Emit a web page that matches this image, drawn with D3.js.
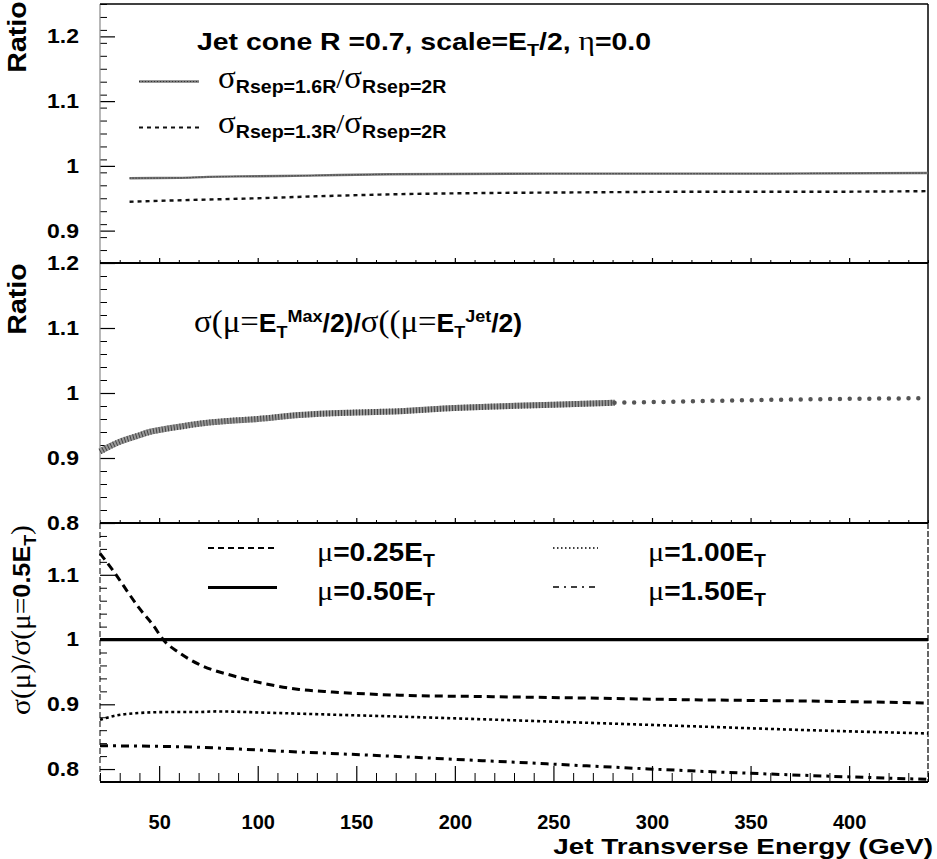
<!DOCTYPE html>
<html>
<head>
<meta charset="utf-8">
<script src="https://cdn.jsdelivr.net/npm/d3@7/dist/d3.min.js"></script>
<style>
  html, body { margin: 0; padding: 0; background: #fff; }
  svg { display: block; }
</style>
</head>
<body>
<svg id="chart" width="937" height="859"></svg>
<script>
// ---------------- DATA ----------------
// x axis
const xDomain = [20, 440];
const xMajorTicks = [50, 100, 150, 200, 250, 300, 350, 400];

// Top panel: Rsep ratios
const etRsep16 = [35, 60, 75, 100, 125, 167, 250, 330, 440];
const ratioRsep16 = [0.981, 0.9815, 0.983, 0.984, 0.985, 0.987, 0.988, 0.988, 0.989];
const etRsep13 = [35, 50, 75, 100, 130, 167, 213, 260, 320, 380, 440];
const ratioRsep13 = [0.9445, 0.946, 0.948, 0.950, 0.953, 0.956, 0.958, 0.959, 0.960, 0.960, 0.961];
const topYTicks = [0.9, 1.0, 1.1, 1.2];

// Middle panel: scale choice ratio (dense part, then sparse markers)
const etScaleDense = [20, 25, 30, 40, 45, 50, 60, 71, 85, 100, 121, 150, 172, 200, 213, 250, 281];
const ratioScaleDense = [0.910, 0.918, 0.925, 0.935, 0.940, 0.943, 0.948, 0.953, 0.957, 0.960, 0.966, 0.970, 0.972, 0.977, 0.9785, 0.982, 0.985];
const etScaleSparse = [281, 300, 350, 400, 440];
const ratioScaleSparse = [0.985, 0.986, 0.989, 0.991, 0.992];
const midYTicks = [0.8, 0.9, 1.0, 1.1, 1.2];

// Bottom panel: scale variations
const etMu025 = [20, 27, 33.5, 40, 47, 52, 60, 70, 87.5, 105, 121, 138, 172, 213, 260, 320, 380, 440];
const ratioMu025 = [1.133, 1.105, 1.076, 1.048, 1.022, 1.0, 0.980, 0.962, 0.944, 0.931, 0.923, 0.919, 0.914, 0.912, 0.910, 0.907, 0.905, 0.902];
const etMu050 = [20, 440];
const ratioMu050 = [1.0, 1.0];
const etMu100 = [20, 27, 37, 54, 69, 79, 105, 138, 172, 213, 262, 321, 380, 440];
const ratioMu100 = [0.876, 0.882, 0.886, 0.888, 0.888, 0.889, 0.887, 0.884, 0.881, 0.877, 0.872, 0.866, 0.860, 0.855];
const etMu150 = [20, 66, 116, 167, 214, 228, 260, 314, 380, 440];
const ratioMu150 = [0.836, 0.834, 0.827, 0.820, 0.813, 0.811, 0.806, 0.798, 0.790, 0.784];
const botYTicks = [0.8, 0.9, 1.0, 1.1];

// ---------------- LAYOUT ----------------
const svg = d3.select("#chart");
const X0 = 100, X1 = 928;
const panels = {
  top: { y0: 4, y1: 263, domain: [0.85, 1.25] },
  mid: { y0: 263, y1: 523, domain: [0.8, 1.2] },
  bot: { y0: 523, y1: 782, domain: [0.78, 1.18] }
};
const x = d3.scaleLinear().domain(xDomain).range([X0, X1]);
const yTop = d3.scaleLinear().domain(panels.top.domain).range([panels.top.y1, panels.top.y0]);
const yMid = d3.scaleLinear().domain(panels.mid.domain).range([panels.mid.y1, panels.mid.y0]);
const yBot = d3.scaleLinear().domain(panels.bot.domain).range([panels.bot.y1, panels.bot.y0]);

const SANS = "'Liberation Sans', Arial, Helvetica, sans-serif";
const SERIF = "'Liberation Serif', 'Times New Roman', serif";

function range(a, b, step) {
  const out = [];
  for (let v = a; v <= b + 1e-9; v += step) out.push(Math.round(v * 1000) / 1000);
  return out;
}
const fmtY = d => (Math.abs(d - 1) < 1e-9 ? "1" : d3.format(".1f")(d));

// rich text helper
function rich(sel, tx, ty, parts, opts) {
  const g = sel.append("g")
    .attr("transform", `translate(${tx},${ty}) rotate(${opts.rotate || 0}) scale(${opts.sx || 1},1)`);
  const t = g.append("text").attr("text-anchor", opts.anchor || "start").attr("fill", "#000");
  parts.forEach(p => {
    const ts = t.append("tspan").text(p.t)
      .attr("font-family", p.s ? SERIF : SANS)
      .attr("font-weight", p.s ? "normal" : "bold")
      .attr("font-size", p.size || opts.size);
    if (p.dy) ts.attr("dy", p.dy);
  });
  return g;
}

// ---------------- Y AXES ----------------
function yAxis(scale, majors, dom) {
  const minors = range(dom[0], dom[1], 0.02).filter(v => !majors.some(m => Math.abs(m - v) < 1e-6));
  const gMin = svg.append("g").attr("transform", `translate(${X0},0)`)
    .call(d3.axisLeft(scale).tickValues(minors).tickSizeInner(-7).tickSizeOuter(0).tickFormat(""));
  gMin.select(".domain").remove();
  gMin.selectAll("line").attr("stroke", "#000").attr("stroke-width", 1);
  const gMaj = svg.append("g").attr("transform", `translate(${X0},0)`)
    .call(d3.axisLeft(scale).tickValues(majors).tickSizeInner(-15).tickSizeOuter(0).tickPadding(21).tickFormat(fmtY));
  gMaj.select(".domain").remove();
  gMaj.selectAll("line").attr("stroke", "#000").attr("stroke-width", 1.2);
  gMaj.selectAll("text")
    .attr("font-family", SANS).attr("font-weight", "bold").attr("font-size", 20).attr("fill", "#000")
    .each(function () {
      const el = d3.select(this);
      const xx = +el.attr("x");
      el.attr("x", 0).attr("transform", `translate(${xx},0) scale(1.15,1)`);
    });
}
yAxis(yTop, topYTicks, panels.top.domain);
yAxis(yMid, midYTicks, panels.mid.domain);
yAxis(yBot, botYTicks, panels.bot.domain);

// ---------------- X TICKS ----------------
const xMinors = range(20, 440, 10).filter(v => !xMajorTicks.includes(v));
function xTicks(yPos, majLen, minLen) {
  const g1 = svg.append("g").attr("transform", `translate(0,${yPos})`)
    .call(d3.axisBottom(x).tickValues(xMinors).tickSizeInner(-minLen).tickSizeOuter(0).tickFormat(""));
  g1.select(".domain").remove();
  g1.selectAll("line").attr("stroke", "#000").attr("stroke-width", 1);
  const g2 = svg.append("g").attr("transform", `translate(0,${yPos})`)
    .call(d3.axisBottom(x).tickValues(xMajorTicks).tickSizeInner(-majLen).tickSizeOuter(0).tickFormat(""));
  g2.select(".domain").remove();
  g2.selectAll("line").attr("stroke", "#000").attr("stroke-width", 1.2);
}
xTicks(panels.top.y1, 5, 3);
xTicks(panels.mid.y1, 5, 3);
// bottom axis with labels
const gxB = svg.append("g").attr("transform", `translate(0,${panels.bot.y1})`)
  .call(d3.axisBottom(x).tickValues(xMajorTicks).tickSizeInner(-16).tickSizeOuter(0).tickPadding(33).tickFormat(d3.format("d")));
gxB.select(".domain").remove();
gxB.selectAll("line").attr("stroke", "#000").attr("stroke-width", 1.2);
gxB.selectAll("text").attr("font-family", SANS).attr("font-weight", "bold").attr("font-size", 20).attr("fill", "#000");
const gxBm = svg.append("g").attr("transform", `translate(0,${panels.bot.y1})`)
  .call(d3.axisBottom(x).tickValues(xMinors).tickSizeInner(-9).tickSizeOuter(0).tickFormat(""));
gxBm.select(".domain").remove();
gxBm.selectAll("line").attr("stroke", "#000").attr("stroke-width", 1);

// ---------------- FRAME ----------------
svg.append("line").attr("x1", X0).attr("x2", X0).attr("y1", panels.top.y0).attr("y2", panels.mid.y1)
  .attr("stroke", "#888").attr("stroke-width", 1.2);
svg.append("line").attr("x1", X0).attr("x2", X0).attr("y1", panels.bot.y0).attr("y2", panels.bot.y1)
  .attr("stroke", "#000").attr("stroke-width", 1).attr("stroke-dasharray", "6 3");
svg.append("line").attr("x1", X1).attr("x2", X1).attr("y1", panels.top.y0).attr("y2", panels.mid.y1)
  .attr("stroke", "#000").attr("stroke-width", 1.5);
svg.append("line").attr("x1", X1).attr("x2", X1).attr("y1", panels.bot.y0).attr("y2", panels.bot.y1)
  .attr("stroke", "#000").attr("stroke-width", 1.2).attr("stroke-dasharray", "6 2");
[[panels.top.y0, 1.5], [panels.top.y1, 2], [panels.mid.y1, 2], [panels.bot.y1, 2]].forEach(([yy, w]) => {
  svg.append("line").attr("x1", X0).attr("x2", X1).attr("y1", yy).attr("y2", yy)
    .attr("stroke", "#000").attr("stroke-width", w);
});

// ---------------- CURVES ----------------
function curve(xs, ys, yScale, style) {
  const pts = xs.map((v, i) => [x(v), yScale(ys[i])]);
  const line = d3.line().curve(d3.curveMonotoneX);
  const p = svg.append("path").attr("d", line(pts)).attr("fill", "none")
    .attr("stroke", style.color || "#000").attr("stroke-width", style.width || 2);
  if (style.dash) p.attr("stroke-dasharray", style.dash);
  if (style.cap) p.attr("stroke-linecap", style.cap);
  return p;
}
// top
curve(etRsep16, ratioRsep16, yTop, { color: "#777", width: 2.4 });
curve(etRsep16, ratioRsep16, yTop, { color: "#333", width: 1.2, dash: "1 2" });
curve(etRsep13, ratioRsep13, yTop, { color: "#111", width: 2.4, dash: "4 4" });
// middle
curve(etScaleDense, ratioScaleDense, yMid, { color: "#999", width: 6 });
curve(etScaleDense, ratioScaleDense, yMid, { color: "#444", width: 6, dash: "1 2" });
curve(etScaleSparse, ratioScaleSparse, yMid, { color: "#555", width: 4.5, dash: "0 9.8", cap: "round" });
// bottom
curve(etMu025, ratioMu025, yBot, { width: 3, dash: "8 5" });
curve(etMu050, ratioMu050, yBot, { width: 3.2 });
curve(etMu100, ratioMu100, yBot, { width: 2.6, dash: "3 3" });
curve(etMu150, ratioMu150, yBot, { width: 3, dash: "8 5 3 5" });

// ---------------- LEGENDS / LABELS ----------------
function sample(x1, x2, yy, style) {
  const l = svg.append("line").attr("x1", x1).attr("x2", x2).attr("y1", yy).attr("y2", yy)
    .attr("stroke", style.color || "#000").attr("stroke-width", style.width || 2);
  if (style.dash) l.attr("stroke-dasharray", style.dash);
}

// top title
rich(svg, 197, 50, [
  { t: "Jet cone R =0.7, scale=E" },
  { t: "T", size: 17, dy: 6 },
  { t: "/2, ", dy: -6 },
  { t: "η", s: true, size: 27 },
  { t: "=0.0" }
], { size: 24.5, sx: 1.16 });

// top legend
sample(139, 199, 81.5, { color: "#777", width: 2.4 });
sample(139, 199, 81.5, { color: "#333", width: 1.2, dash: "1 2" });
sample(139, 199, 127.5, { color: "#111", width: 2.2, dash: "4 4" });
function rsepLabel(ty, val) {
  rich(svg, 218, ty, [
    { t: "σ", s: true, size: 32 },
    { t: "Rsep=" + val, size: 19, dy: 5 },
    { t: "/", s: true, size: 28, dy: -5 },
    { t: "σ", s: true, size: 32 },
    { t: "Rsep=2R", size: 19, dy: 5 }
  ], { size: 24, sx: 1.03 });
}
rsepLabel(88, "1.6R");
rsepLabel(133, "1.3R");

// middle label
rich(svg, 194, 332, [
  { t: "σ(μ=", s: true, size: 31 },
  { t: "E", size: 25 },
  { t: "T", size: 17, dy: 6 },
  { t: "Max", size: 17, dy: -16 },
  { t: "/2)", size: 25, dy: 10 },
  { t: "/", size: 25 },
  { t: "σ((μ=", s: true, size: 31 },
  { t: "E", size: 25 },
  { t: "T", size: 17, dy: 6 },
  { t: "Jet", size: 17, dy: -16 },
  { t: "/2)", size: 25, dy: 10 }
], { size: 25, sx: 1.06 });

// bottom legend
sample(208, 277, 548, { width: 2, dash: "6 4" });
sample(208, 277, 587.5, { width: 3 });
sample(553, 598, 548, { width: 1.6, dash: "1.5 2.5" });
sample(553, 598, 587, { width: 1.6, dash: "6 5 2 5" });
function muLabel(tx, ty, val) {
  rich(svg, tx, ty, [
    { t: "μ", s: true, size: 28 },
    { t: "=" + val + "E", size: 26 },
    { t: "T", size: 18, dy: 6 }
  ], { size: 26, sx: 1.08 });
}
muLabel(317, 561, "0.25");
muLabel(317, 600, "0.50");
muLabel(648, 561, "1.00");
muLabel(648, 600, "1.50");

// y titles
rich(svg, 26, 37, [{ t: "Ratio" }], { size: 26, sx: 1.1, rotate: -90, anchor: "middle" });
rich(svg, 26, 299, [{ t: "Ratio" }], { size: 26, sx: 1.1, rotate: -90, anchor: "middle" });
rich(svg, 30, 620, [
  { t: "σ(μ)/σ(μ=", s: true, size: 28 },
  { t: "0.5E", size: 24 },
  { t: "T", size: 17, dy: 6 },
  { t: ")", s: true, size: 28, dy: -6 }
], { size: 24, sx: 1.05, rotate: -90, anchor: "middle" });

// x title
rich(svg, 933, 854, [{ t: "Jet Transverse Energy (GeV)" }], { size: 22.5, sx: 1.24, anchor: "end" });
</script>
</body>
</html>
